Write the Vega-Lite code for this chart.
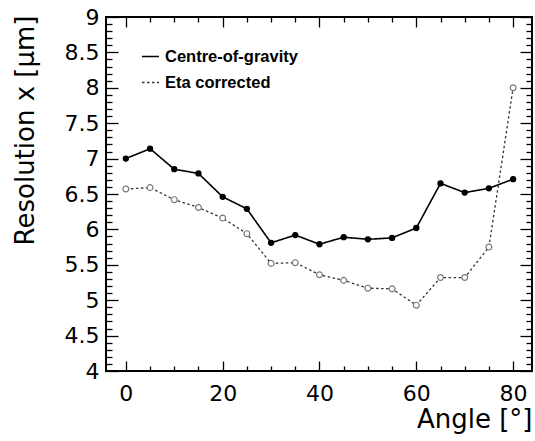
{
  "$schema": "https://vega.github.io/schema/vega-lite/v6.json",
  "width": 426,
  "height": 354,
  "autosize": {"type": "none"},
  "padding": {"left": 106, "top": 17, "right": 3, "bottom": 70},
  "background": "white",
  "config": {
    "view": {"stroke": "black", "strokeWidth": 2},
    "axis": {"domain": false, "grid": false, "tickColor": "black", "tickWidth": 1.3, "labelColor": "black", "titleColor": "black", "labelOverlap": false, "labelFlush": false}
  },
  "data": {
    "values": [
      {"angle": 0, "res": 7.00, "method": "Centre-of-gravity"},
      {"angle": 5, "res": 7.14, "method": "Centre-of-gravity"},
      {"angle": 10, "res": 6.85, "method": "Centre-of-gravity"},
      {"angle": 15, "res": 6.79, "method": "Centre-of-gravity"},
      {"angle": 20, "res": 6.46, "method": "Centre-of-gravity"},
      {"angle": 25, "res": 6.29, "method": "Centre-of-gravity"},
      {"angle": 30, "res": 5.81, "method": "Centre-of-gravity"},
      {"angle": 35, "res": 5.92, "method": "Centre-of-gravity"},
      {"angle": 40, "res": 5.79, "method": "Centre-of-gravity"},
      {"angle": 45, "res": 5.89, "method": "Centre-of-gravity"},
      {"angle": 50, "res": 5.86, "method": "Centre-of-gravity"},
      {"angle": 55, "res": 5.88, "method": "Centre-of-gravity"},
      {"angle": 60, "res": 6.02, "method": "Centre-of-gravity"},
      {"angle": 65, "res": 6.65, "method": "Centre-of-gravity"},
      {"angle": 70, "res": 6.52, "method": "Centre-of-gravity"},
      {"angle": 75, "res": 6.58, "method": "Centre-of-gravity"},
      {"angle": 80, "res": 6.71, "method": "Centre-of-gravity"},
      {"angle": 0, "res": 6.57, "method": "Eta corrected"},
      {"angle": 5, "res": 6.59, "method": "Eta corrected"},
      {"angle": 10, "res": 6.42, "method": "Eta corrected"},
      {"angle": 15, "res": 6.31, "method": "Eta corrected"},
      {"angle": 20, "res": 6.16, "method": "Eta corrected"},
      {"angle": 25, "res": 5.94, "method": "Eta corrected"},
      {"angle": 30, "res": 5.52, "method": "Eta corrected"},
      {"angle": 35, "res": 5.53, "method": "Eta corrected"},
      {"angle": 40, "res": 5.36, "method": "Eta corrected"},
      {"angle": 45, "res": 5.28, "method": "Eta corrected"},
      {"angle": 50, "res": 5.17, "method": "Eta corrected"},
      {"angle": 55, "res": 5.16, "method": "Eta corrected"},
      {"angle": 60, "res": 4.93, "method": "Eta corrected"},
      {"angle": 65, "res": 5.32, "method": "Eta corrected"},
      {"angle": 70, "res": 5.32, "method": "Eta corrected"},
      {"angle": 75, "res": 5.75, "method": "Eta corrected"},
      {"angle": 80, "res": 8.00, "method": "Eta corrected"}
    ]
  },
  "layer": [
    {
      "mark": {"type": "line"},
      "encoding": {
        "x": {
          "field": "angle", "type": "quantitative",
          "scale": {"domain": [-4.1, 83.9], "nice": false, "zero": false},
          "axis": {
            "orient": "bottom",
            "values": [0, 5, 10, 15, 20, 25, 30, 35, 40, 45, 50, 55, 60, 65, 70, 75, 80],
            "tickSize": {"condition": {"test": "datum.value % 20 === 0", "value": -10}, "value": -5},
            "labelExpr": "datum.value % 20 === 0 ? '' + datum.value : ''",
            "labelFont": "DejaVu Sans", "labelFontSize": 22, "labelPadding": 22,
            "title": "Angle [°]", "titleFont": "DejaVu Sans", "titleFontSize": 26, "titleFontWeight": "normal",
            "titleX": 426, "titleY": 56, "titleAlign": "right", "titleBaseline": "alphabetic", "titleAnchor": "end"
          }
        },
        "y": {
          "field": "res", "type": "quantitative",
          "scale": {"domain": [4, 9], "nice": false, "zero": false},
          "axis": {
            "orient": "left",
            "values": [4, 4.1, 4.2, 4.3, 4.4, 4.5, 4.6, 4.7, 4.8, 4.9, 5, 5.1, 5.2, 5.3, 5.4, 5.5, 5.6, 5.7, 5.8, 5.9, 6, 6.1, 6.2, 6.3, 6.4, 6.5, 6.6, 6.7, 6.8, 6.9, 7, 7.1, 7.2, 7.3, 7.4, 7.5, 7.6, 7.7, 7.8, 7.9, 8, 8.1, 8.2, 8.3, 8.4, 8.5, 8.6, 8.7, 8.8, 8.9, 9],
            "tickSize": {"condition": {"test": "abs(datum.value * 2 - round(datum.value * 2)) < 0.001", "value": -12}, "value": -6},
            "labelExpr": "abs(datum.value * 2 - round(datum.value * 2)) < 0.001 ? '' + datum.value : ''",
            "labelFont": "DejaVu Sans", "labelFontSize": 22, "labelPadding": 19,
            "title": "Resolution x [μm]", "titleFont": "DejaVu Sans", "titleFontSize": 26, "titleFontWeight": "normal",
            "titleX": -73, "titleY": -2, "titleAngle": -90, "titleAlign": "right", "titleBaseline": "alphabetic", "titleAnchor": "end"
          }
        },
        "color": {
          "field": "method", "type": "nominal",
          "scale": {"domain": ["Centre-of-gravity", "Eta corrected"], "range": ["#000000", "#333333"]},
          "legend": {
            "orient": "none", "legendX": 35, "legendY": 30, "title": null, "padding": 0,
            "symbolType": "stroke", "symbolSize": 289, "symbolStrokeWidth": 1.5,
            "labelFont": "Liberation Sans", "labelFontWeight": "bold", "labelFontSize": 16.5, "labelColor": "black",
            "labelOffset": 5, "rowPadding": 8
          }
        },
        "strokeDash": {
          "field": "method", "type": "nominal",
          "scale": {"domain": ["Centre-of-gravity", "Eta corrected"], "range": [[1, 0], [2.5, 2.5]]}
        },
        "strokeWidth": {
          "field": "method", "type": "nominal",
          "scale": {"domain": ["Centre-of-gravity", "Eta corrected"], "range": [1.6, 1.3]},
          "legend": null
        }
      }
    },
    {
      "mark": {"type": "point", "filled": false, "opacity": 1, "strokeWidth": 1.2},
      "encoding": {
        "x": {
          "field": "angle", "type": "quantitative",
          "axis": {
            "orient": "top",
            "values": [0, 5, 10, 15, 20, 25, 30, 35, 40, 45, 50, 55, 60, 65, 70, 75, 80],
            "tickSize": {"condition": {"test": "datum.value % 20 === 0", "value": -10}, "value": -5},
            "labels": false, "title": null
          }
        },
        "y": {
          "field": "res", "type": "quantitative",
          "axis": {
            "orient": "right",
            "values": [4, 4.1, 4.2, 4.3, 4.4, 4.5, 4.6, 4.7, 4.8, 4.9, 5, 5.1, 5.2, 5.3, 5.4, 5.5, 5.6, 5.7, 5.8, 5.9, 6, 6.1, 6.2, 6.3, 6.4, 6.5, 6.6, 6.7, 6.8, 6.9, 7, 7.1, 7.2, 7.3, 7.4, 7.5, 7.6, 7.7, 7.8, 7.9, 8, 8.1, 8.2, 8.3, 8.4, 8.5, 8.6, 8.7, 8.8, 8.9, 9],
            "tickSize": {"condition": {"test": "abs(datum.value * 2 - round(datum.value * 2)) < 0.001", "value": -12}, "value": -6},
            "labels": false, "title": null
          }
        },
        "fill": {
          "field": "method", "type": "nominal",
          "scale": {"domain": ["Centre-of-gravity", "Eta corrected"], "range": ["#000000", "#ffffff"]},
          "legend": null
        },
        "stroke": {
          "field": "method", "type": "nominal",
          "scale": {"domain": ["Centre-of-gravity", "Eta corrected"], "range": ["#000000", "#777777"]},
          "legend": null
        },
        "size": {
          "field": "method", "type": "nominal",
          "scale": {"domain": ["Centre-of-gravity", "Eta corrected"], "range": [26, 34]},
          "legend": null
        }
      }
    }
  ],
  "resolve": {"axis": {"x": "independent", "y": "independent"}, "scale": {"stroke": "independent", "fill": "independent", "size": "independent"}}
}
